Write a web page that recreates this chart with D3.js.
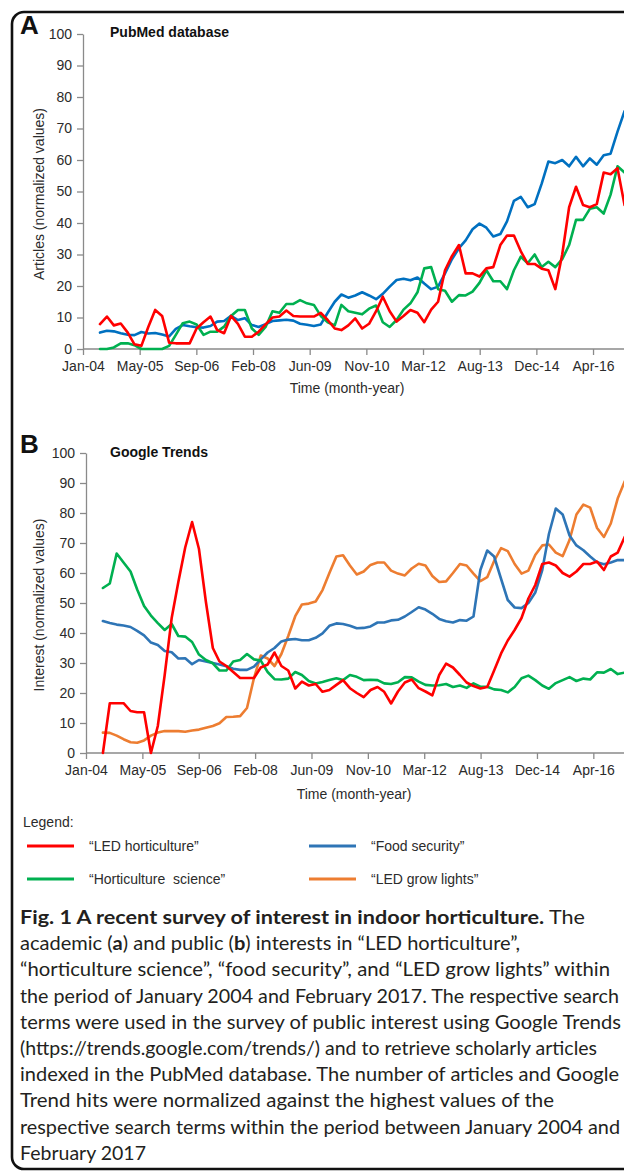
<!DOCTYPE html>
<html><head><meta charset="utf-8">
<script src="https://cdn.jsdelivr.net/npm/d3@7"></script>
<style>
html,body{margin:0;padding:0;background:#fff;}
svg{display:block;}
.axis text{font-family:"Liberation Sans",Arial,sans-serif;font-size:14px;fill:#2b2b2b;}
.axis path,.axis line{stroke:#8a8a8a;stroke-width:1.3;}
</style>
</head><body>
<svg id="fig" width="624" height="1174"></svg>
<script>
// ---------- DATA ----------
const months = ["2004-06","2004-08","2004-10","2004-12",
"2005-02","2005-04","2005-06","2005-08","2005-10","2005-12",
"2006-02","2006-04","2006-06","2006-08","2006-10","2006-12",
"2007-02","2007-04","2007-06","2007-08","2007-10","2007-12",
"2008-02","2008-04","2008-06","2008-08","2008-10","2008-12",
"2009-02","2009-04","2009-06","2009-08","2009-10","2009-12",
"2010-02","2010-04","2010-06","2010-08","2010-10","2010-12",
"2011-02","2011-04","2011-06","2011-08","2011-10","2011-12",
"2012-02","2012-04","2012-06","2012-08","2012-10","2012-12",
"2013-02","2013-04","2013-06","2013-08","2013-10","2013-12",
"2014-02","2014-04","2014-06","2014-08","2014-10","2014-12",
"2015-02","2015-04","2015-06","2015-08","2015-10","2015-12",
"2016-02","2016-04","2016-06","2016-08","2016-10","2016-12",
"2017-02"];

const xTickLabels = ["Jan-04","May-05","Sep-06","Feb-08","Jun-09","Nov-10","Mar-12","Aug-13","Dec-14","Apr-16"];
const yTicks = [0,10,20,30,40,50,60,70,80,90,100];

const seriesNames = ["\u201CLED horticulture\u201D","\u201CHorticulture  science\u201D","\u201CFood security\u201D","\u201CLED grow lights\u201D"];

// Panel A: PubMed database
const pubmedLED = [7.9,10.3,7.5,8.1,5.2,1.5,1,7,12.4,10.5,2,1.8,1.8,1.8,6.5,8.5,10.3,6,5,10.5,8,3.9,3.9,5.5,7.8,10,10.3,12.2,10.5,10.3,10.3,10.3,11.5,9.2,6.5,6,7.5,9.7,6.5,8,12,16.6,12,8.7,10.5,12.4,11.5,8.5,12.5,15,25,29.5,33,24,24,23,25.6,26,33,36,36,31,27,27,25.5,25,19,30,45,51.5,45.7,45,46,56,55.5,57.4,45.7];
const pubmedHort = [0,0,0.5,1.8,1.8,1.2,0,0,0,0,1,4.5,8.2,8.7,7.8,4.5,5.5,5.5,7.1,10.5,12.4,12.4,6.5,4.5,7,12,11.5,14.3,14.3,15.5,14.5,14,10.5,8.5,7.5,14,12,11.5,11,12.8,13.8,8.5,7,9.2,12.5,14.5,18,25.6,26,19,18.5,15,17.1,17,18.2,21,25,21.5,21.5,19,25,29.3,27.2,30,26,27.7,26,28.5,33,41,41,44.5,45,43,49,58,56];
const pubmedFood = [5.2,5.8,5.6,5,4.5,4.4,5.4,4.9,5.1,4.6,4,6.4,7.6,7.2,6.9,6.8,7.3,8.7,8.9,10.5,9.2,9.8,7.6,7,7.9,8.9,9.1,9.3,9,8,7.7,7.3,7.8,11.5,15,17.3,16.3,17,18,17,15.8,17.5,19.8,21.9,22.3,21.8,22.7,20.8,19,19.8,24,28.5,32,34.5,38,39.8,38.5,35.7,36.5,40.5,47,48.3,45,46,52.5,59.5,59,60,58,61,58,60.5,58.5,61.5,62,69,75.5];

// Panel B: Google Trends
const trendsLED = [0,16.6,16.6,16.6,14,13.6,13.6,0,9,26,45,57,68.5,77,68,50.5,35,30.5,29,27,25,25,25,28.5,29.5,33.5,29,27.5,21.5,23.8,22.5,23,20.4,21,22.7,24.3,21.6,20,18.6,21,22,20.4,16.5,20.5,23.5,24.5,21.6,20.5,19.2,26,29.8,28.5,26,23.5,22.3,21.5,22,27.5,33.2,37.5,41,45,51.5,56,63,63.5,62.5,60,58.8,60.5,63,63,63.8,61,65.5,66.8,72];
const trendsHort = [55,56.5,66.5,63.5,60.5,54.5,49,45.8,43.3,41,43,39,38.8,37,32.8,31,29.9,27.5,27.5,30.5,31,33,31.2,30.8,27,24.6,24.5,24.8,27,26,24,23.2,23.7,24.3,24.9,24.3,26,25.4,24.3,24.4,24.3,23.2,23,23.6,25.3,25.2,23.8,22.7,22.5,22.6,23,22,22.5,21.7,23.2,22.1,22.1,21.2,21,20.2,22,24.9,25.8,24.3,22.5,21.4,23.3,24.3,25.3,24,24.8,24.5,26.9,26.8,28,26.3,26.8];
const trendsFood = [44,43.3,42.8,42.5,42,40.7,39.2,36.8,36,34,33.6,31.5,31.6,29.6,31,30.5,30,29.5,28.9,28.1,27.7,27.7,28.8,31.2,33.5,35,37.2,37.8,38,37.6,37.6,38.4,39.9,42.4,43.2,43,42.4,41.6,41.7,42.2,43.5,43.5,44.2,44.4,45.5,47,48.6,47.8,46.4,44.7,43.9,43.5,44.3,44.1,45.5,61,67.5,65.5,58,51,48.5,48.3,50,53.5,61,73,81.5,79.5,72.5,69.2,67.6,65.5,63.6,62.9,63.5,64.3,64.3];
const trendsGrow = [6.8,6.7,5.8,4.6,3.6,3.4,4.2,5.8,6.8,7.3,7.3,7.3,7.1,7.5,7.8,8.4,9,9.9,12,12.1,12.3,15,25,32.5,31.5,29,33,39,45.6,49.5,49.8,50.5,54.3,60,65.5,65.9,62.5,59.5,60.5,62.7,63.5,63.5,60.8,59.8,59.2,61.5,63.1,62.5,59,57,57.2,60,63,62.5,59.8,57.3,58.6,64,68.3,67.3,63,59.8,60.8,66,69.2,69.5,66.8,65.6,71,79.5,82.8,81.8,75,72,76.5,84.8,90.5];

const captionLines = [
  [["Fig. 1 A recent survey of interest in indoor horticulture.",true],[" The",false]],
  [["academic (",false],["a",true],[") and public (",false],["b",true],[") interests in \u201CLED horticulture\u201D,",false]],
  [["\u201Chorticulture science\u201D, \u201Cfood security\u201D, and \u201CLED grow lights\u201D within",false]],
  [["the period of January 2004 and February 2017. The respective search",false]],
  [["terms were used in the survey of public interest using Google Trends",false]],
  [["(https://trends.google.com/trends/) and to retrieve scholarly articles",false]],
  [["indexed in the PubMed database. The number of articles and Google",false]],
  [["Trend hits were normalized against the highest values of the",false]],
  [["respective search terms within the period between January 2004 and",false]],
  [["February 2017",false]]
];
const captionWidths = [565,500,590,599,601,577,599,534,600,126];

// ---------- DRAWING ----------
const W = 624;
const svg = d3.select("#fig");
const dates = months.map(d3.timeParse("%Y-%m"));
const D0 = new Date(2004,0,3);
const tickDates = xTickLabels.map((l,i)=> new Date(D0.getTime() + i*500*864e5));
const COL = {red:"#ff0000", blueA:"#0070c0", blueB:"#2e75b6", green:"#00b050", orange:"#ed7d31"};
const sans = "'Liberation Sans',Arial,sans-serif";

// frame
svg.append("rect").attr("x",12).attr("y",12).attr("width",720).attr("height",1157)
  .attr("rx",12).attr("fill","none").attr("stroke","#111").attr("stroke-width",2.6);

function drawPanel(o){
  const x = d3.scaleTime().domain([tickDates[0], tickDates[tickDates.length-1]])
    .range([o.x0, o.x0 + (tickDates.length-1)*o.step]);
  const y = d3.scaleLinear().domain([0,100]).range([o.y0, o.y100]);
  const g = svg.append("g");
  g.append("g").attr("class","axis").attr("transform",`translate(${o.x0},0)`)
    .call(d3.axisLeft(y).tickValues(yTicks).tickSize(6).tickSizeOuter(0).tickPadding(5));
  const xa = g.append("g").attr("class","axis").attr("transform",`translate(0,${o.y0})`)
    .call(d3.axisBottom(x).tickValues(tickDates).tickFormat((d,i)=>xTickLabels[i])
      .tickSize(6).tickSizeOuter(0).tickPadding(6.5));
  xa.select(".domain").attr("d",`M${o.x0},0H${W}`);
  const line = d3.line().x((d,i)=>x(dates[i])).y(d=>y(d));
  o.series.forEach(s=>{
    g.append("path").datum(s.values).attr("d",line).attr("fill","none")
      .attr("stroke",s.color).attr("stroke-width",2.6)
      .attr("stroke-linejoin","round").attr("stroke-linecap","round");
  });
  g.append("text").attr("x",20).attr("y",o.letterY).text(o.letter)
    .attr("font-family",sans).attr("font-weight","bold").attr("font-size",26).attr("fill","#111");
  g.append("text").attr("x",110).attr("y",o.titleY).text(o.title)
    .attr("font-family",sans).attr("font-weight","bold").attr("font-size",14).attr("fill","#111");
  g.append("text").attr("transform",`translate(44,${o.yTitleY}) rotate(-90)`)
    .attr("text-anchor","middle").text(o.yTitle)
    .attr("font-family",sans).attr("font-size",14).attr("fill","#2b2b2b").style("white-space","pre");
  g.append("text").attr("x",o.xTitleX).attr("y",o.xTitleY).attr("text-anchor","middle")
    .text("Time (month-year)").attr("font-family",sans).attr("font-size",14).attr("fill","#2b2b2b");
}

drawPanel({x0:83, step:56.67, y0:349, y100:34, letter:"A", letterY:34, title:"PubMed database", titleY:37,
  yTitle:"Articles (normalized values)", yTitleY:194, xTitleX:347, xTitleY:393,
  series:[{values:pubmedFood,color:COL.blueA},{values:pubmedHort,color:COL.green},{values:pubmedLED,color:COL.red}]});

drawPanel({x0:86, step:56.37, y0:753, y100:453, letter:"B", letterY:453, title:"Google Trends", titleY:457,
  yTitle:"Interest (normalized values)", yTitleY:605, xTitleX:354, xTitleY:799,
  series:[{values:trendsGrow,color:COL.orange},{values:trendsFood,color:COL.blueB},{values:trendsHort,color:COL.green},{values:trendsLED,color:COL.red}]});

// legend
const lg = svg.append("g").attr("font-family",sans).attr("font-size",14).attr("fill","#2b2b2b");
lg.append("text").attr("x",23).attr("y",827).text("Legend:");
const legendItems = [
  {name:seriesNames[0], color:COL.red,    col:0, row:0},
  {name:seriesNames[2], color:COL.blueB,  col:1, row:0},
  {name:seriesNames[1], color:COL.green,  col:0, row:1},
  {name:seriesNames[3], color:COL.orange, col:1, row:1}
];
const lgX = [27,309], lgY = [846,879];
legendItems.forEach(it=>{
  const lx = lgX[it.col], ly = lgY[it.row];
  lg.append("line").attr("x1",lx).attr("x2",lx+47).attr("y1",ly).attr("y2",ly)
    .attr("stroke",it.color).attr("stroke-width",2.8);
  lg.append("text").attr("x",lx+62).attr("y",ly+5).style("white-space","pre").text(it.name);
});

// caption
const cap = svg.append("g").attr("font-family","Lato,'Open Sans',sans-serif").attr("font-size",19).attr("fill","#231f20");
captionLines.forEach((parts,i)=>{
  const t = cap.append("text").attr("x",20).attr("y",924 + i*26.2)
    .attr("textLength",captionWidths[i]).attr("lengthAdjust","spacingAndGlyphs")
    .style("white-space","pre");
  parts.forEach(p=> t.append("tspan").attr("font-weight",p[1]?"bold":"normal").text(p[0]));
});
</script>
</body></html>
